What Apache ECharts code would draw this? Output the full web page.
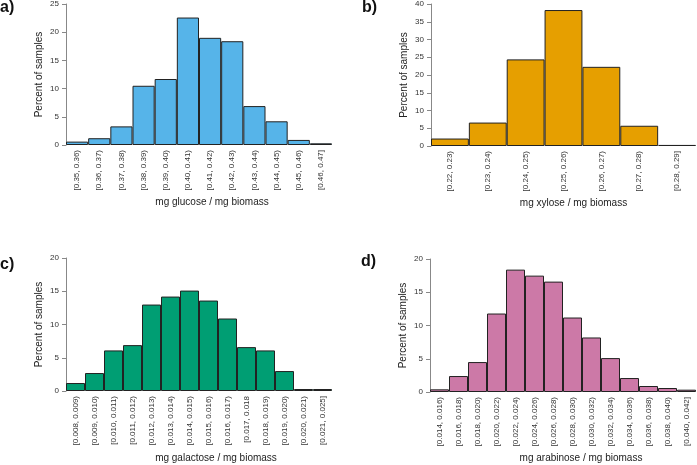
<!DOCTYPE html>
<html><head><meta charset="utf-8">
<script src="https://cdn.jsdelivr.net/npm/echarts@6/dist/echarts.min.js"></script>
<style>html,body{margin:0;padding:0;background:#fff}#c{width:697px;height:465px}</style>
</head><body><div id="c"></div>
<script>
const glucoseCats = ['[0.35, 0.36)','[0.36, 0.37)','[0.37, 0.38)','[0.38, 0.39)','[0.39, 0.40)','[0.40, 0.41)','[0.41, 0.42)','[0.42, 0.43)','[0.43, 0.44)','[0.44, 0.45)','[0.45, 0.46)','[0.46, 0.47]'];
const glucoseVals = [0.6, 1.2, 3.3, 10.5, 11.7, 22.6, 19.0, 18.4, 6.9, 4.2, 0.9, 0.3];
const xyloseCats = ['[0.22, 0.23)','[0.23, 0.24)','[0.24, 0.25)','[0.25, 0.26)','[0.26, 0.27)','[0.27, 0.28)','[0.28, 0.29]'];
const xyloseVals = [2.1, 6.6, 24.4, 38.3, 22.3, 5.7, 0.3];
const galactoseCats = ['[0.008, 0.009)','[0.009, 0.010)','[0.010, 0.011)','[0.011, 0.012)','[0.012, 0.013)','[0.013, 0.014)','[0.014, 0.015)','[0.015, 0.016)','[0.016, 0.017)','[0.017, 0.018','[0.018, 0.019)','[0.019, 0.020)','[0.020, 0.021)','[0.021, 0.025]'];
const galactoseVals = [1.2, 2.7, 6.1, 6.9, 13.0, 14.2, 15.1, 13.6, 10.9, 6.6, 6.1, 3.0, 0.3, 0.3];
const arabinoseCats = ['[0.014, 0.016)','[0.016, 0.018)','[0.018, 0.020)','[0.020, 0.022)','[0.022, 0.024)','[0.024, 0.026)','[0.026, 0.028)','[0.028, 0.030)','[0.030, 0.032)','[0.032, 0.034)','[0.034, 0.036)','[0.036, 0.038)','[0.038, 0.040)','[0.040, 0.042]'];
const arabinoseVals = [0.4, 2.4, 4.5, 11.8, 18.4, 17.5, 16.6, 11.2, 8.2, 5.1, 2.1, 0.9, 0.6, 0.35];
const yMax = [25, 40, 20, 20];
const yInterval = [5, 5, 5, 5];
const xNames = ['mg glucose / mg biomass','mg xylose / mg biomass','mg galactose / mg biomass','mg arabinose / mg biomass'];
const panelLabels = ['a)','b)','c)','d)'];
const colors = ['#56B4E9','#E69F00','#009E73','#CC79A7'];

const cats = [glucoseCats, xyloseCats, galactoseCats, arabinoseCats];
const vals = [glucoseVals, xyloseVals, galactoseVals, arabinoseVals];
const grids = [
  {left:66, top:4, width:266, height:141},
  {left:431, top:4, width:265, height:142},
  {left:66, top:258, width:266, height:133},
  {left:430, top:259, width:266, height:133}
];
const xNamePad = [26, 20, 34, 36];
const xNameGap = [52, 52, 62, 61];
const font = 'Liberation Sans, Arial, sans-serif';
const chart = echarts.init(document.getElementById('c'));
const opt = {
  animation:false,
  textStyle:{fontFamily:font},
  grid: grids,
  xAxis: cats.map((c,i)=>({
    type:'category', gridIndex:i, data:c, boundaryGap:true,
    axisLine:{show:false}, axisTick:{show:false},
    axisLabel:{rotate:90, interval:0, fontSize:8, color:'#333', margin:5, fontFamily:font},
    name:xNames[i], nameLocation:'middle', nameGap:xNameGap[i],
    nameTextStyle:{fontSize:10, color:'#222', padding:[0,0,0,xNamePad[i]], fontFamily:font}
  })),
  yAxis: yMax.map((m,i)=>({
    type:'value', gridIndex:i, min:0, max:m, interval:yInterval[i],
    splitLine:{show:false},
    axisLine:{show:true, lineStyle:{color:'#888', width:1}},
    axisTick:{show:true, length:4, lineStyle:{color:'#888'}},
    axisLabel:{fontSize:8, color:'#333', margin:7, fontFamily:font},
    name:'Percent of samples', nameLocation:'middle', nameGap:22,
    nameTextStyle:{fontSize:10, color:'#222', fontFamily:font}
  })),
  series: vals.map((v,i)=>({
    type:'bar', xAxisIndex:i, yAxisIndex:i, data:v, barCategoryGap:'0%',
    itemStyle:{color:colors[i], borderColor:'#222', borderWidth:1}
  })),
  graphic: [
    {type:'text', left:0, top:0, style:{text:panelLabels[0], font:'bold 16px '+font, fill:'#111'}},
    {type:'text', left:362, top:0, style:{text:panelLabels[1], font:'bold 16px '+font, fill:'#111'}},
    {type:'text', left:0, top:257, style:{text:panelLabels[2], font:'bold 16px '+font, fill:'#111'}},
    {type:'text', left:361, top:254, style:{text:panelLabels[3], font:'bold 16px '+font, fill:'#111'}}
  ]
};
chart.setOption(opt);
</script></body></html>
